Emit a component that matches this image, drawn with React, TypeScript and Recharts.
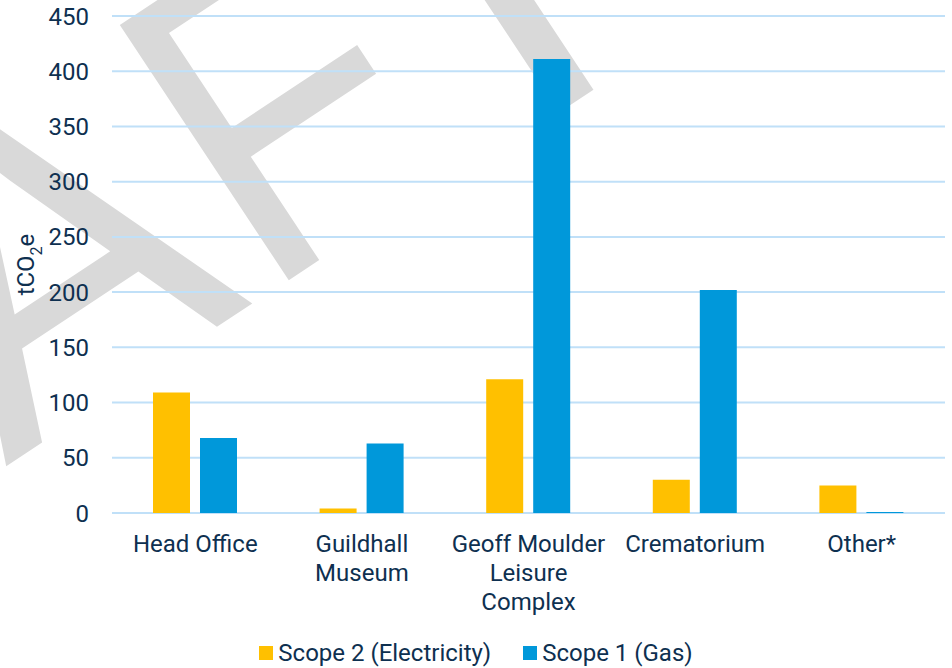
import React from "react";
import {
  BarChart,
  Bar,
  XAxis,
  YAxis,
  CartesianGrid,
  Legend,
  Label,
} from "recharts";

const categories = [
  "Head Office",
  "Guildhall\nMuseum",
  "Geoff Moulder\nLeisure\nComplex",
  "Crematorium",
  "Other*",
];
const scope2Electricity = [109, 4, 121, 30, 25];
const scope1Gas = [68, 63, 411, 202, 1];
const yTicks = [0, 50, 100, 150, 200, 250, 300, 350, 400, 450];

const seriesNames = ["Scope 2 (Electricity)", "Scope 1 (Gas)"];

const TEXT = "#0E3050";
const YELLOW = "#FFC000";
const BLUE = "#0098DA";
const GRID = "#C0E0F8";
const FONT = "Roboto, 'Open Sans', sans-serif";

const data = categories.map((name, i) => ({
  name,
  scope2: scope2Electricity[i],
  scope1: scope1Gas[i],
}));

const XTick = ({ x, y, payload }: any) => {
  const lines = String(payload.value).split("\n");
  return (
    <text x={x} y={y} textAnchor="middle" fill={TEXT} fontSize={24} fontFamily={FONT}>
      {lines.map((line, i) => (
        <tspan key={i} x={x} dy={i === 0 ? "0.71em" : 29}>
          {line}
        </tspan>
      ))}
    </text>
  );
};

const YLabel = ({ viewBox }: any) => {
  const cx = viewBox.x + 34;
  const cy = viewBox.y + viewBox.height / 2;
  return (
    <text
      transform={`translate(${cx}, ${cy}) rotate(-90)`}
      textAnchor="middle"
      fill={TEXT}
      fontSize={24}
      fontFamily={FONT}
    >
      tCO
      <tspan fontSize={16} dy={8}>
        2
      </tspan>
      <tspan dy={-8}>e</tspan>
    </text>
  );
};

const legendColors = [YELLOW, BLUE];

const LegendContent = () => (
  <div
    style={{
      width: 952,
      height: 30,
      display: "flex",
      justifyContent: "center",
      alignItems: "center",
      fontFamily: FONT,
      fontSize: 24,
      color: TEXT,
    }}
  >
    {seriesNames.map((name, i) => (
      <span
        key={name}
        style={{ display: "flex", alignItems: "center", marginLeft: i === 0 ? 0 : 32 }}
      >
        <span
          style={{
            display: "inline-block",
            width: 14,
            height: 14,
            background: legendColors[i],
            marginRight: 5,
          }}
        />
        {name}
      </span>
    ))}
  </div>
);

// watermark letters, placed one by one along a -33.5deg baseline
const ANGLE = -33.5;
const watermark = [
  { t: "DR", x: 5.5, y: 466.8, anchor: "end", sx: 1 },
  { t: "A", x: 5.5, y: 466.8, anchor: "start", sx: 1 },
  { t: "F", x: 262, y: 298, anchor: "start", sx: 0.88 },
  { t: "T", x: 463, y: 176, anchor: "start", sx: 1 },
];

export default function App() {
  return (
    <div
      style={{
        position: "absolute",
        left: 0,
        top: 0,
        width: 952,
        height: 668,
        background: "#fff",
        overflow: "hidden",
      }}
    >
      <svg width={952} height={668} style={{ position: "absolute", left: 0, top: 0 }}>
        {watermark.map((w) => (
          <text
            key={w.t}
            x={0}
            y={0}
            textAnchor={w.anchor}
            transform={`translate(${w.x}, ${w.y}) rotate(${ANGLE}) scale(${w.sx}, 1)`}
            fontFamily="'Liberation Sans', Arial, sans-serif"
            fontSize={445}
            fill="#D9D9D9"
          >
            {w.t}
          </text>
        ))}
      </svg>
      <div style={{ position: "absolute", left: 0, top: 0 }}>
        <BarChart
          width={952}
          height={668}
          data={data}
          margin={{ top: 16, right: 7, left: 0, bottom: 0 }}
          barSize={37}
          barGap={10}
        >
          <CartesianGrid vertical={false} stroke={GRID} strokeWidth={2} />
          <XAxis
            dataKey="name"
            axisLine={false}
            tickLine={false}
            tickSize={0}
            tickMargin={22}
            height={125}
            interval={0}
            tick={<XTick />}
          />
          <YAxis
            domain={[0, 450]}
            ticks={yTicks}
            width={112}
            axisLine={false}
            tickLine={false}
            tickSize={0}
            tickMargin={23}
            tick={{ fill: TEXT, fontSize: 24, fontFamily: FONT }}
          >
            <Label content={<YLabel />} />
          </YAxis>
          <Legend
            verticalAlign="bottom"
            content={<LegendContent />}
            wrapperStyle={{ left: 0, width: 952 }}
          />
          <Bar
            dataKey="scope2"
            name={seriesNames[0]}
            fill={YELLOW}
            isAnimationActive={false}
          />
          <Bar dataKey="scope1" name={seriesNames[1]} fill={BLUE} isAnimationActive={false} />
        </BarChart>
      </div>
    </div>
  );
}
